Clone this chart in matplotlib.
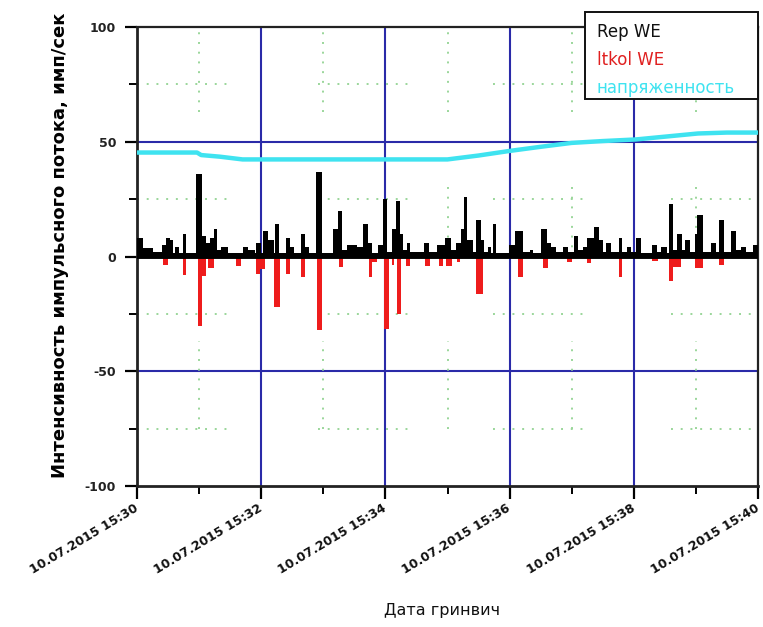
import matplotlib
matplotlib.use("Agg")
import matplotlib.pyplot as plt
from matplotlib.patches import Rectangle
import matplotlib.transforms as mtransforms
import numpy as np

# ---- data (seconds after 10.07.2015 15:30:00) ----
black_t = [0, 6, 15, 24, 28, 32, 35, 37, 41, 44, 47, 57, 63, 67, 71, 74, 77, 81, 88,
           102, 107, 114, 115, 120, 122, 127, 132, 133, 137, 144, 148, 152, 158, 162,
           166, 173, 179, 189, 194, 198, 203, 213, 218, 223, 227, 233, 238, 242, 246,
           250, 254, 257, 261, 264, 277, 282, 290, 298, 303, 308, 313, 316, 319, 325,
           328, 332, 335, 339, 342, 344, 347, 359, 365, 373, 380, 383, 390, 396, 400,
           405, 412, 416, 422, 426, 431, 435, 442, 446, 450, 453, 458, 466, 469, 473,
           477, 482, 487, 498, 502, 506, 512, 514, 518, 522, 527, 529, 534, 539, 541,
           547, 555, 559, 562, 567, 574, 579, 584, 588, 595, 600]
black_v = [8, 3.5, 2, 5, 8, 7, 1.5, 4, 1.5, 10, 1.5, 36, 9, 6, 8, 12, 3, 4, 1.5,
           4, 3, 1.5, 6, 1.5, 11, 7, 1.5, 14, 1.5, 8, 4, 1.5, 10, 4,
           1.5, 37, 1.5, 12, 20, 3, 5, 4, 14, 6, 1.5, 5, 25, 2, 12,
           24, 10, 3, 6, 2, 6, 2, 5, 8, 3, 6, 12, 26, 7, 2,
           16, 7, 2, 4, 1.5, 14, 1.5, 5, 11, 2, 3, 1.5, 12, 6, 4,
           2, 4, 2, 9, 3, 4, 8, 13, 7, 2, 6, 2, 8, 2, 4,
           2, 8, 1.5, 5, 2, 4, 1.5, 23, 3, 10, 3, 7, 2, 10, 18,
           2, 6, 2, 16, 2, 11, 3, 4, 2, 5, 5]

red_t = [0, 25, 30, 44, 47, 59, 63, 67, 69, 74, 96, 100, 115, 119, 124, 132, 138,
         144, 148, 158, 162, 174, 179, 195, 199, 224, 227, 232, 239, 243, 246, 248,
         251, 255, 260, 264, 278, 283, 292, 296, 299, 304, 309, 312, 328, 334, 368,
         373, 392, 397, 415, 420, 435, 439, 466, 469, 498, 503, 514, 518, 526, 539,
         547, 562, 567, 600]
red_v = [0, -3.5, 0, -8, 0, -30.5, -8.7, -1, -5, 0, -4, 0, -7.5, -5.5, 0, -22, 0,
         -7.5, 0, -9, 0, -32, 0, -4.5, 0, -9, -2.5, 0, -31.5, -1, -3.5, 0,
         -25, 0, -4, 0, -4, 0, -4, 0, -4, -1, -2.5, 0, -16.2, 0, -9,
         0, -5, 0, -2.5, 0, -3, 0, -9, 0, -2, 0, -10.5, -4.5, 0, -5,
         0, -3.5, 0, 0]

cyan_t = [0, 58, 62, 80, 102, 200, 300, 330, 360, 390, 420, 450, 482, 512, 542, 570, 600]
cyan_v = [45.3, 45.3, 44.2, 43.5, 42.3, 42.3, 42.3, 44.0, 46.0, 47.8, 49.5, 50.3, 51.0,
          52.3, 53.6, 54.0, 54.0]

x_ticks = [0, 120, 240, 360, 480, 600]
x_labels = ["10.07.2015 15:30", "10.07.2015 15:32", "10.07.2015 15:34",
            "10.07.2015 15:36", "10.07.2015 15:38", "10.07.2015 15:40"]
y_ticks = [-100, -50, 0, 50, 100]
legend_labels = ["Rep WE", "ltkol WE", "напряженность"]

# ---- figure ----
W, H = 763, 627
fig = plt.figure(figsize=(W / 100, H / 100), dpi=100)
ax = fig.add_axes([137 / W, 1 - 486 / H, (758 - 137) / W, (486 - 27) / H])
ax.set_xlim(0, 600)
ax.set_ylim(-100, 100)

blue = "#2a2aa8"
green = "#9ad69a"
# major grid
for xv in [120, 240, 360, 480]:
    ax.axvline(xv, color=blue, lw=1.5, zorder=1)
for yv in [-50, 50]:
    ax.axhline(yv, color=blue, lw=1.5, zorder=1)

# partial dotted minor grid (as in reference)
hseg = [(0, 92), (175, 264), (344, 433), (516, 600)]
for yv in [75, 25, -25, -75]:
    for a, b in hseg:
        ax.plot([a, b], [yv, yv], color=green, lw=1.4, ls=(0, (1, 4)), zorder=1)
for xv in [60, 180, 300, 420, 540]:
    for a, b in [(63, 98), (-75, -37)]:
        ax.plot([xv, xv], [a, b], color=green, lw=1.4, ls=(0, (1, 4)), zorder=1)
for xv in [300, 420, 540]:
    ax.plot([xv, xv], [0, 32], color=green, lw=1.4, ls=(0, (1, 4)), zorder=1)

ax.fill_between(red_t, red_v, 0, step="post", color="#ee1c1c", lw=0, zorder=2)
ax.fill_between(black_t, black_v, 0, step="post", color="black", lw=0, zorder=3)
ax.axhline(0, color="black", lw=2.8, zorder=4)
ax.plot(cyan_t, cyan_v, color="#3fe3f0", lw=3.2, zorder=5, solid_capstyle="butt")

ax.set_xticks(x_ticks)
ax.set_xticklabels(x_labels, rotation=31, ha="right", va="center",
                   rotation_mode="anchor",
                   fontsize=9, fontweight="bold", color="#111111")
shift = mtransforms.ScaledTranslation(-5 / 100, 1 / 100, fig.dpi_scale_trans)
for lab in ax.get_xticklabels():
    lab.set_transform(lab.get_transform() + shift)
ax.set_xticks([60, 180, 300, 420, 540], minor=True)
ax.set_yticks(y_ticks)
ax.set_yticklabels([str(v) for v in y_ticks], fontsize=9, fontweight="bold", color="#222222")
ax.set_yticks([-75, -25, 25, 75], minor=True)
ax.tick_params(which="major", length=9, width=1.6, direction="out", pad=6)
ax.tick_params(which="minor", length=6, width=1.4, direction="out")
for s in ax.spines.values():
    s.set_color("#222222")
    s.set_linewidth(1.6)
ax.spines["left"].set_linewidth(2)
ax.spines["bottom"].set_linewidth(2)

fig.text(60 / W, 1 - 245 / H, "Интенсивность импульсного потока, имп/сек",
         rotation=90, ha="center", va="center", fontsize=13, fontweight="bold")
fig.text(442 / W, 1 - 610 / H, "Дата гринвич", ha="center", va="center",
         fontsize=11.5, color="#111111")

# legend box
fig.patches.append(Rectangle((585 / W, 1 - 99 / H), (758 - 585) / W, (99 - 12) / H,
                             transform=fig.transFigure, facecolor="white",
                             edgecolor="#111111", lw=1.4, zorder=10))
leg_colors = ["#111111", "#e02020", "#3fe3f0"]
for i, (lab, c) in enumerate(zip(legend_labels, leg_colors)):
    fig.text(597 / W, 1 - (32 + 28 * i) / H, lab, color=c, fontsize=12,
             ha="left", va="center", zorder=11)

fig.savefig("out.png", dpi=100)
